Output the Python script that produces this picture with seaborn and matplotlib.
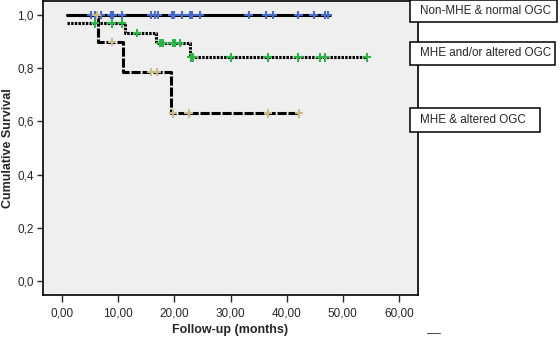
import numpy as np
import pandas as pd
import seaborn as sns
import matplotlib.pyplot as plt
from matplotlib.patches import Rectangle
from matplotlib.lines import Line2D

# groups and legend labels
groups = ['Non-MHE & normal OGC', 'MHE and/or altered OGC', 'MHE & altered OGC']

# Kaplan-Meier steps (time in months, cumulative survival)
g1_time = [0.9, 47.7]
g1_surv = [1.0, 1.0]
g2_time = [0.9, 11.2, 16.7, 22.8, 54.3]
g2_surv = [0.969, 0.933, 0.896, 0.841, 0.841]
g3_time = [0.9, 6.3, 10.9, 19.3, 42.2]
g3_surv = [1.0, 0.90, 0.787, 0.63, 0.63]

# censored observations
g1_cens = [5.2, 5.8, 6.9, 8.7, 9.0, 10.6, 15.9, 16.5, 17.1, 19.5, 19.9, 21.3,
           22.8, 23.2, 24.6, 33.2, 36.4, 37.6, 42.1, 44.8, 46.8, 47.4]
g2_cens = [5.8, 8.8, 10.6, 13.3, 17.4, 17.7, 18.0, 19.7, 20.1, 21.0,
           23.0, 23.3, 30.0, 36.6, 42.1, 46.0, 46.8, 54.3]
g3_cens = [6.1, 8.9, 15.9, 16.9, 19.7, 22.5, 36.7, 42.2]

x_ticks = [0, 10, 20, 30, 40, 50, 60]
y_ticks = [0.0, 0.2, 0.4, 0.6, 0.8, 1.0]

steps = pd.concat([
    pd.DataFrame({'time': t, 'surv': s, 'group': g})
    for t, s, g in zip([g1_time, g2_time, g3_time], [g1_surv, g2_surv, g3_surv], groups)
])


def surv_at(times, survs, c):
    i = np.searchsorted(times, c, side='right') - 1
    return np.asarray(survs)[i]


cens = pd.concat([
    pd.DataFrame({'time': c, 'surv': surv_at(t, s, c), 'group': g})
    for t, s, c, g in zip([g1_time, g2_time, g3_time], [g1_surv, g2_surv, g3_surv],
                          [g1_cens, g2_cens, g3_cens], groups)
])

sns.set_style('white')
plt.rcParams['font.family'] = ['Liberation Sans', 'DejaVu Sans']

fig = plt.figure(figsize=(5.6, 3.38), dpi=100)
ax = fig.add_axes([0.0763, 0.1272, 0.670, 0.871])
ax.set_facecolor('#efefef')

sns.lineplot(data=steps, x='time', y='surv', hue='group', style='group',
             palette={g: 'black' for g in groups},
             dashes={groups[0]: '', groups[1]: (0.8, 0.4), groups[2]: (3, 0.6)},
             drawstyle='steps-post', estimator=None, linewidth=2.2,
             legend=False, ax=ax)
sns.scatterplot(data=cens, x='time', y='surv', hue='group',
                palette={groups[0]: '#4a6bc5', groups[1]: '#2db34a', groups[2]: '#c9bd8f'},
                marker='+', s=36, linewidth=1.5, legend=False, ax=ax, zorder=3)

ax.set_xlim(-3.49, 63.4)
ax.set_ylim(-0.0526, 1.0545)
ax.set_xticks(x_ticks)
ax.set_xticklabels([('%.2f' % v).replace('.', ',') for v in x_ticks])
ax.set_yticks(y_ticks)
ax.set_yticklabels([('%.1f' % v).replace('.', ',') for v in y_ticks])
ax.tick_params(axis='x', direction='out', length=5, width=1, labelsize=8.5, pad=4, bottom=True)
ax.tick_params(axis='y', direction='out', length=4.3, width=1, labelsize=8.5, pad=2, left=True)
for sp in ax.spines.values():
    sp.set_linewidth(1.2)
    sp.set_color('black')
ax.set_xlabel('Follow-up (months)', fontsize=9, fontweight='bold', labelpad=3)
ax.set_ylabel('Cumulative Survival', fontsize=9, fontweight='bold')
ax.yaxis.set_label_coords(-0.076, 0.5)

# legend boxes outside the plot, right side
boxes = [(410, 0, 147, 22), (410, 42, 145, 23), (410, 108, 130, 24)]
for (x0, y0, w, h), g in zip(boxes, groups):
    fig.add_artist(Rectangle((x0 / 560, 1 - (y0 + h) / 338), w / 560, h / 338,
                             transform=fig.transFigure, facecolor='white',
                             edgecolor='black', linewidth=1.1, zorder=5))
    fig.text((x0 + 10) / 560, 1 - (y0 + h / 2) / 338, g, fontsize=8.4,
             va='center', ha='left', zorder=6)

fig.add_artist(Line2D([427 / 560, 440 / 560], [1 - 332.7 / 338] * 2,
                      transform=fig.transFigure, color='#555555', linewidth=0.8))

fig.savefig('out.png', dpi=100)
